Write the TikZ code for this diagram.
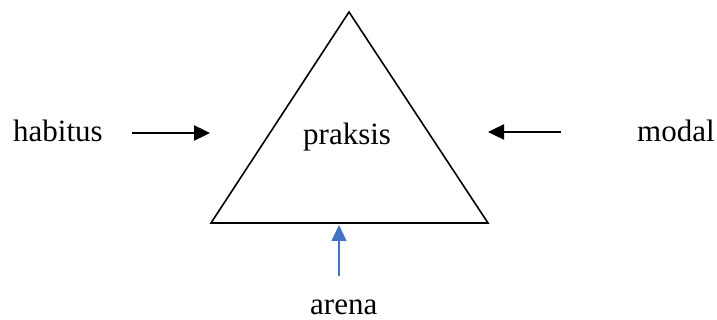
\documentclass[tikz,border=0pt]{standalone}
\usepackage{fontspec}
\setmainfont{Liberation Serif}
\usetikzlibrary{arrows.meta}
\definecolor{arrowblue}{HTML}{4472C4}
\tikzset{
  lbl/.style={inner sep=0pt, anchor=base west, font=\fontsize{31}{37}\selectfont},
  blackarrow/.style={line width=2.4pt, -{Triangle[length=16pt,width=15pt]}},
  bluearrow/.style={line width=1.1pt, draw=arrowblue, -{Triangle[length=16pt,width=15pt]}, arrowblue}
}
\begin{document}
\begin{tikzpicture}[x=1pt,y=-1pt]
\useasboundingbox (0,0) rectangle (717,320);
\coordinate (apex) at (349,12);
\coordinate (bl) at (211,223);
\coordinate (br) at (488,223);
\draw[line width=1.6pt, line join=miter] (apex) -- (br) -- (bl) -- cycle;
\node[lbl] (habitus) at (13,142) {habitus};
\node[lbl] (modal) at (637,142) {modal};
\node[lbl] (praksis) at (303,145) {praksis};
\node[lbl] (arena) at (310,314) {arena};
\coordinate (lt) at (132,133);
\coordinate (lh) at (210,133);
\coordinate (rt) at (561,132);
\coordinate (rh) at (488,132);
\coordinate (bt) at (339,276);
\coordinate (bh) at (339,225);
\draw[blackarrow] (lt) -- (lh);
\draw[blackarrow] (rt) -- (rh);
\draw[bluearrow] (bt) -- (bh);
\end{tikzpicture}
\end{document}
